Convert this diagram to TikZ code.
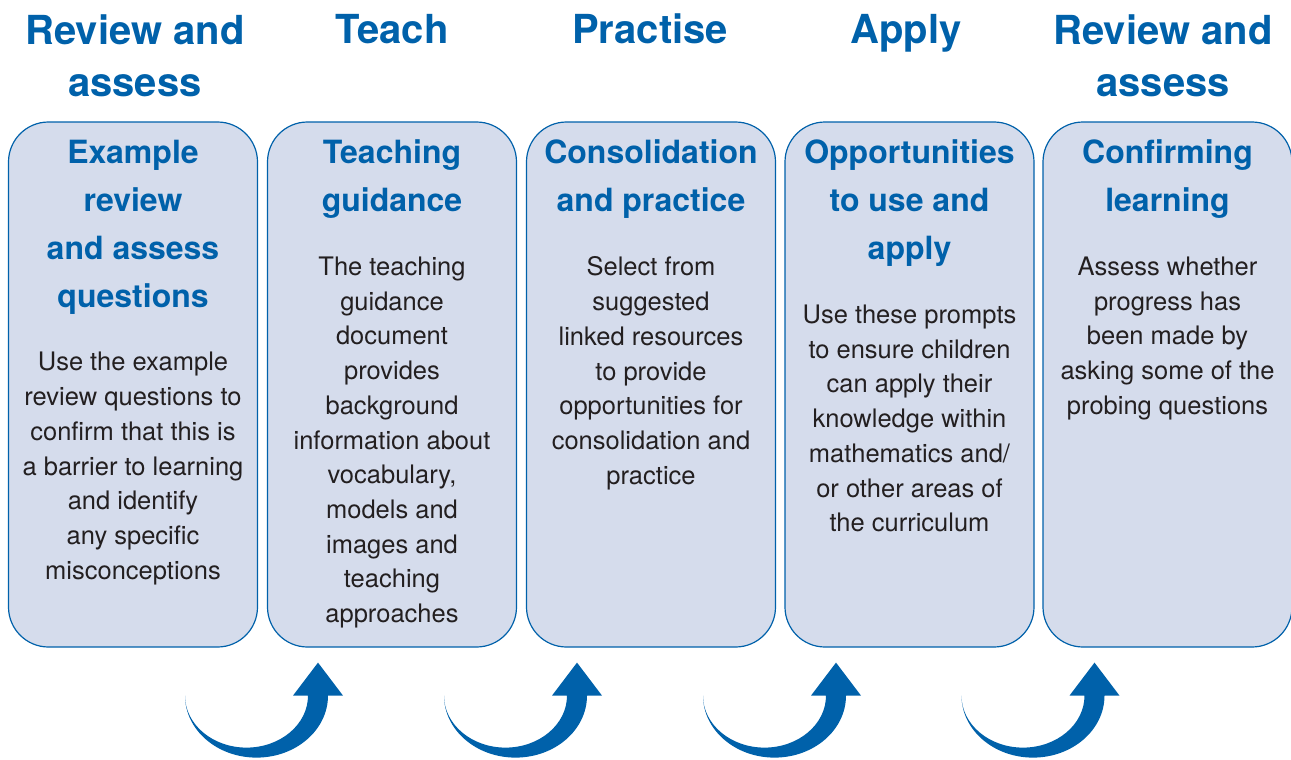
\documentclass[tikz,border=0pt]{standalone}
\usepackage{fontspec}
\setmainfont{TeX Gyre Heros}
\usetikzlibrary{calc,positioning}
\definecolor{stageblue}{RGB}{0,97,170}
\definecolor{stagefill}{RGB}{213,220,236}
\definecolor{bodygrey}{RGB}{35,31,32}
\tikzset{
	stagebox/.style={draw=stageblue, line width=1.2pt, fill=stagefill, rounded corners=40pt, minimum width=249pt, minimum height=525pt, inner sep=0pt},
	heading/.style={anchor=north, inner sep=0pt, align=center, text=stageblue, font=\fontsize{40}{52}\selectfont\bfseries},
	boxtitle/.style={anchor=north, inner sep=0pt, align=center, text=stageblue, font=\fontsize{32}{48}\selectfont\bfseries},
	boxbody/.style={below=38pt of #1, inner sep=0pt, align=center, text=bodygrey, font=\fontsize{25.5}{34.7}\selectfont}
}
\def\bentarrow(#1){\fill[stageblue] ($(#1.south)+(52,-48)$) arc (180:360:71.5 and 62) -- ++(15,0) -- ++(-25,33) -- ++(-25,-33) -- ++(15,0) arc (0:-180:61.5 and 52) -- cycle;}

\begin{document}
\begin{tikzpicture}[x=1pt, y=1pt]
		%%%%% START %%%%%
		\useasboundingbox (0, 0) rectangle (1291, -760);
		
		\node[heading] (hd1) at (135, -14) {Review and\\assess};
		\node[heading] (hd2) at (392, -14) {Teach};
		\node[heading] (hd3) at (650, -14) {Practise};
		\node[heading] (hd4) at (906, -14) {Apply};
		\node[heading] (hd5) at (1163, -14) {Review and\\assess};
		
		\node[stagebox] (box1) at (133, -384.5) {};
		\node[stagebox] (box2) at (392, -384.5) {};
		\node[stagebox] (box3) at (651, -384.5) {};
		\node[stagebox] (box4) at (909.5, -384.5) {};
		\node[stagebox] (box5) at (1167.5, -384.5) {};
		
		\node[boxtitle] (tt1) at (133, -139.5) {Example\\review\\and assess\\questions};
		\node[boxtitle] (tt2) at (392, -139.5) {Teaching\\guidance};
		\node[boxtitle] (tt3) at (651, -139.5) {Consolidation\\and practice};
		\node[boxtitle] (tt4) at (909.5, -139.5) {Opportunities\\to use and\\apply};
		\node[boxtitle] (tt5) at (1167.5, -139.5) {Confirming\\learning};
		
		\node[boxbody=tt1] (bd1) {Use the example\\review questions to\\confirm that this is\\a barrier to learning\\and identify\\any specific\\misconceptions};
		\node[boxbody=tt2] (bd2) {The teaching\\guidance\\document\\provides\\background\\information about\\vocabulary,\\models and\\images and\\teaching\\approaches};
		\node[boxbody=tt3] (bd3) {Select from\\suggested\\linked resources\\to provide\\opportunities for\\consolidation and\\practice};
		\node[boxbody=tt4] (bd4) {Use these prompts\\to ensure children\\can apply their\\knowledge within\\mathematics and/\\or other areas of\\the curriculum};
		\node[boxbody=tt5] (bd5) {Assess whether\\progress has\\been made by\\asking some of the\\probing questions};
		
		\bentarrow(box1)
		\bentarrow(box2)
		\bentarrow(box3)
		\bentarrow(box4)
		%%%%% END %%%%%
	\end{tikzpicture}
\end{document}
